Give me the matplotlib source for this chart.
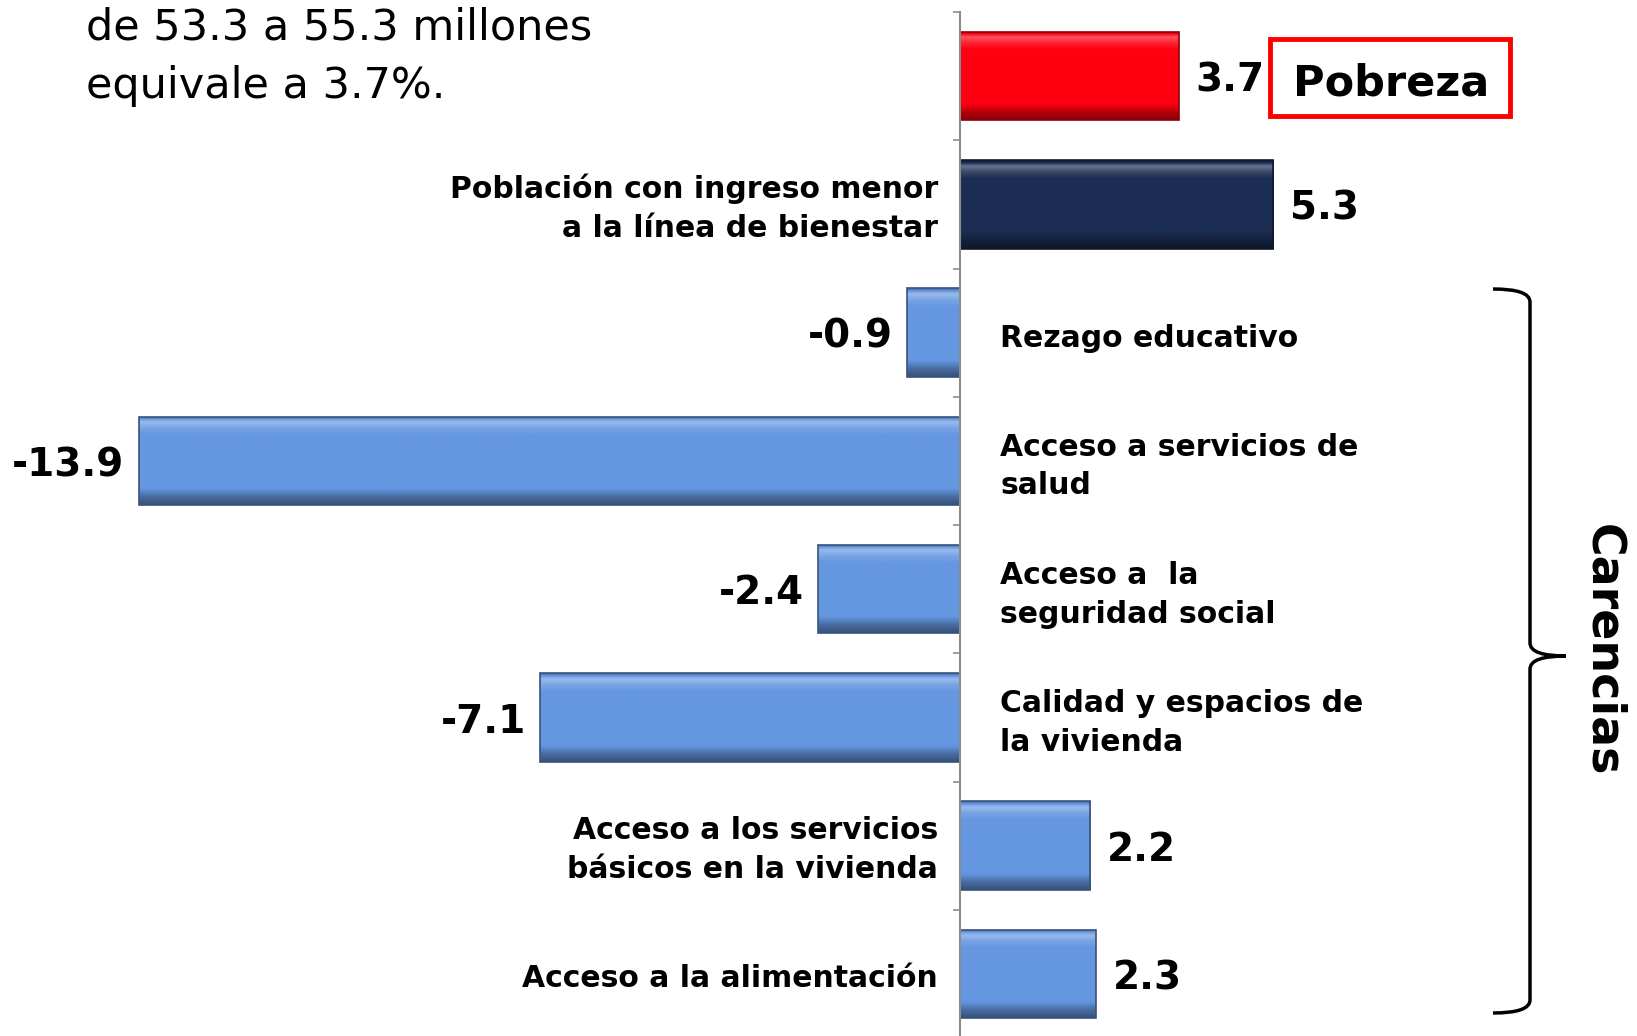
import matplotlib
matplotlib.use("Agg")
import matplotlib.pyplot as plt
import matplotlib.patches as mpatches
import matplotlib.colors as mcolors
from matplotlib.path import Path
from matplotlib.transforms import Affine2D
import numpy as np

# categories (top to bottom) and change in percent
categories = [
    "Pobreza",
    "Población con ingreso menor\na la línea de bienestar",
    "Rezago educativo",
    "Acceso a servicios de\nsalud",
    "Acceso a  la\nseguridad social",
    "Calidad y espacios de\nla vivienda",
    "Acceso a los servicios\nbásicos en la vivienda",
    "Acceso a la alimentación",
]
values = [3.7, 5.3, -0.9, -13.9, -2.4, -7.1, 2.2, 2.3]
value_labels = ["3.7", "5.3", "-0.9", "-13.9", "-2.4", "-7.1", "2.2", "2.3"]
bar_colors = ["#FF0010", "#1B2D52", "#6597E1", "#6597E1", "#6597E1", "#6597E1", "#6597E1", "#6597E1"]
intro_text = "de 53.3 a 55.3 millones\nequivale a 3.7%."
group_label = "Carencias"

W, H = 1637, 1036
fig = plt.figure(figsize=(W / 100, H / 100), dpi=100)
# pixel coordinates with origin at top-left
px = Affine2D().scale(1 / W, -1 / H).translate(0, 1) + fig.transFigure

ax = fig.add_axes([0, -2 / H, 1, 1026 / H])
y = np.arange(len(values))
bars = ax.barh(y, values, height=0.69, color=bar_colors, edgecolor="none", zorder=2)
ax.set_xlim(-960 / 59.1, (W - 960) / 59.1)
ax.set_ylim(len(values) - 0.5, -0.5)


def shade(c, f):
    r = np.array(mcolors.to_rgb(c))
    return np.clip(r + (1 - r) * f, 0, 1) if f > 0 else r * (1 + f)


# bevel look: vertical gradient clipped to each bar
t = np.linspace(0, 1, 60)
for b, c in zip(bars, bar_colors):
    x0, y0, w, h = b.get_x(), b.get_y(), b.get_width(), b.get_height()
    prof = np.interp(t, [0, 0.06, 0.12, 0.2, 0.82, 0.92, 1.0],
                     [-0.25, 0.35, 0.15, 0.0, 0.0, -0.3, -0.45])
    img = np.array([shade(c, f) for f in prof])[:, None, :]
    im = ax.imshow(img, extent=(x0, x0 + w, y0 + h, y0), aspect="auto",
                   interpolation="bilinear", zorder=2.5, origin="upper")
    im.set_clip_path(b)
    ax.add_patch(mpatches.Rectangle((x0, y0), w, h, fill=False,
                                    edgecolor=shade(c, -0.45), linewidth=1.2, zorder=2.6))
ax.set_xlim(-960 / 59.1, (W - 960) / 59.1)
ax.set_ylim(len(values) - 0.5, -0.5)

for s in ["top", "right", "bottom"]:
    ax.spines[s].set_visible(False)
ax.spines["left"].set_position(("data", 0))
ax.spines["left"].set_color("#8C8C8C")
ax.spines["left"].set_linewidth(1.5)
ax.spines["left"].set_zorder(3)
ax.set_xticks([])
ax.set_yticks(np.arange(len(values) + 1) - 0.5)
ax.set_yticklabels([])
ax.tick_params(axis="y", direction="out", length=5, width=1.2, color="#8C8C8C")

bold = dict(fontweight="bold", color="black", family="DejaVu Sans")
for i, (v, lab, cat) in enumerate(zip(values, value_labels, categories)):
    if v >= 0:
        ax.annotate(lab, xy=(v, i), xytext=(12, -3), textcoords="offset points",
                    ha="left", va="center", fontsize=28, **bold)
        if i > 0:
            ax.annotate(cat, xy=(0, i), xytext=(-16, -3), textcoords="offset points",
                        ha="right", va="center", fontsize=21.5, linespacing=1.42, **bold)
    else:
        ax.annotate(lab, xy=(v, i), xytext=(-10, -3), textcoords="offset points",
                    ha="right", va="center", fontsize=28, **bold)
        ax.annotate(cat, xy=(0, i), xytext=(29, -4), textcoords="offset points",
                    ha="left", va="center", fontsize=21.5, linespacing=1.42, **bold)

# Pobreza box
fig.patches.append(mpatches.Rectangle((1270, 39), 240, 77, fill=False, edgecolor="#FF0000",
                                      linewidth=3.5, transform=px, figure=fig))
fig.text(1391, 84, categories[0], transform=px, ha="center", va="center", fontsize=31, **bold)

# intro text
fig.text(86, 57, intro_text, transform=px, ha="left", va="center", fontsize=31,
         linespacing=1.5, family="DejaVu Sans", color="black")

# brace for the carencias group
verts = [(1493, 289), (1530, 289), (1530, 302),
         (1530, 643),
         (1530, 656), (1566, 656),
         (1530, 656), (1530, 669),
         (1530, 1000),
         (1530, 1013), (1493, 1013)]
codes = [Path.MOVETO, Path.CURVE3, Path.CURVE3,
         Path.LINETO,
         Path.CURVE3, Path.CURVE3,
         Path.CURVE3, Path.CURVE3,
         Path.LINETO,
         Path.CURVE3, Path.CURVE3]
fig.patches.append(mpatches.PathPatch(Path(verts, codes), fill=False, edgecolor="black",
                                      linewidth=2.5, transform=px, figure=fig))
fig.text(1603, 650, group_label, transform=px, rotation=-90, ha="center", va="center",
         fontsize=33, **bold)

fig.savefig("out.png", dpi=100)
